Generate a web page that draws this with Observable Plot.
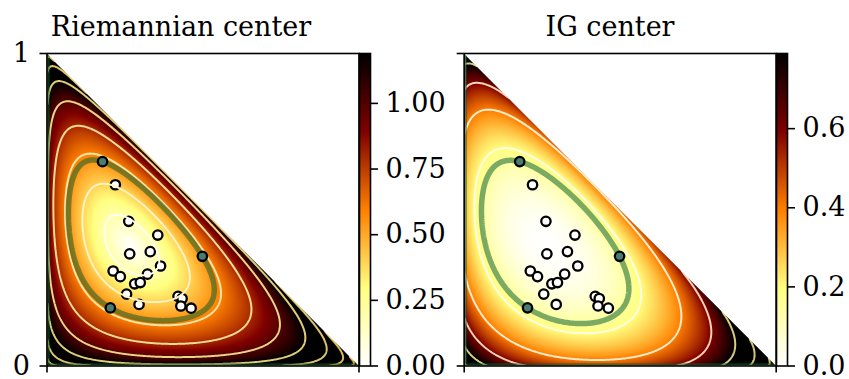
<!DOCTYPE html>
<html>
<head>
<meta charset="utf-8">
<script src="https://cdn.jsdelivr.net/npm/d3@7"></script>
<script src="https://cdn.jsdelivr.net/npm/@observablehq/plot@0.6"></script>
<style>
  html, body { margin: 0; padding: 0; background: #fff; }
  #chart { position: relative; width: 849px; height: 379px; overflow: hidden; font-family: "DejaVu Serif", serif; }
  #chart svg { position: absolute; top: 0; overflow: visible; }
  .title { position: absolute; top: 13px; font-size: 27px; line-height: 1; white-space: nowrap; transform: translateX(-50%); color: #000; }
</style>
</head>
<body>
<div id="chart"></div>
<script>
// Sample points on the 2-simplex: x = p1, y = p2, p3 = 1 - x - y
const sampleX = [0.178, 0.219, 0.262, 0.355, 0.265, 0.331, 0.498, 0.364, 0.212, 0.235,
                 0.322, 0.281, 0.299, 0.255, 0.295, 0.203, 0.420, 0.433, 0.429, 0.462];
const sampleY = [0.654, 0.580, 0.463, 0.419, 0.359, 0.366, 0.351, 0.320, 0.304, 0.286,
                 0.294, 0.263, 0.267, 0.230, 0.197, 0.186, 0.223, 0.216, 0.192, 0.185];
// Points that sit on the boundary of the smallest enclosing ball
const supportIdx = [0, 6, 15];

const panelTitles = ["Riemannian center", "IG center"];
const colorbarMax = [1.19, 0.79];
const colorbarTicks = [[0, 0.25, 0.5, 0.75, 1.0], [0, 0.2, 0.4, 0.6]];
const colorbarFormats = [".2f", ".1f"];
const contourLevels = [
  [0.2, 0.4, 0.6, 0.8, 1.0, 1.2, 1.4, 1.6, 1.8, 2.0],
  [0.2, 0.4, 0.6, 0.8, 1.0, 1.2]
];
const contourColors = [
  ["#fffdf0", "#fff2c4", "#fbe6a8", "#f4dc98", "#ead488", "#e2cc78", "#dcc46c", "#dcb858", "#e0aa44", "#e49a30"],
  ["#fffbe6", "#fdeccc", "#f2d4b4", "#d8cc84", "#d2c474", "#d0bc64"]
];

// afmhot colormap, reversed (0 = white, max = black); piecewise linear in RGB
const afmhotR = d3.piecewise(d3.interpolateRgb, ["#ffffff", "#ffff80", "#ff8000", "#800000", "#000000"]);

const simplex = (x, y) => [x, y, 1 - x - y];
const points = sampleX.map((x, i) => ({x, y: sampleY[i], support: supportIdx.includes(i)}));
const support = supportIdx.map(i => simplex(sampleX[i], sampleY[i]));

// Fisher-Rao geodesic distance on the simplex
const fisherRao = (p, c) =>
  2 * Math.acos(Math.min(1, p.reduce((s, v, i) => s + Math.sqrt(Math.max(v, 0) * c[i]), 0)));
// Kullback-Leibler divergence KL(p || c)
const kl = (p, c) => p.reduce((s, v, i) => s + (v > 0 ? v * Math.log(v / c[i]) : 0), 0);

// Point equidistant (Fisher-Rao) from three points: circumcenter on the sphere sqrt(p)
function riemannianCenter([a, b, c]) {
  const A = a.map(Math.sqrt), B = b.map(Math.sqrt), C = c.map(Math.sqrt);
  const u = B.map((v, i) => v - A[i]), w = C.map((v, i) => v - A[i]);
  let n = [u[1] * w[2] - u[2] * w[1], u[2] * w[0] - u[0] * w[2], u[0] * w[1] - u[1] * w[0]];
  const len = Math.hypot(...n) * Math.sign(n[0] + n[1] + n[2]);
  return n.map(v => (v / len) ** 2);
}
// Point equidistant in KL(p || c) from three points
function igCenter([a, b, c]) {
  const H = p => p.reduce((s, v) => s + (v > 0 ? v * Math.log(v) : 0), 0);
  const d1 = b.map((v, i) => v - a[i]), d2 = c.map((v, i) => v - a[i]);
  const r1 = H(b) - H(a), r2 = H(c) - H(a);
  const det = d1[0] * d2[2] - d1[2] * d2[0];
  const al = (r1 * d2[2] - d1[2] * r2) / det;
  const ga = (d1[0] * r2 - r1 * d2[0]) / det;
  const e = [Math.exp(al), 1, Math.exp(ga)], s = e[0] + e[1] + e[2];
  return e.map(v => v / s);
}

const chart = document.getElementById("chart");
const frames = [
  {left: 46.5, right: 358.5, top: 53, bottom: 365.5, titleX: 181},
  {left: 463.7, right: 775.7, top: 53, bottom: 365.5, titleX: 610}
];
const cbWidth = 11;

frames.forEach((f, k) => {
  const dist = k === 0 ? fisherRao : kl;
  const center = k === 0 ? riemannianCenter(support) : igCenter(support);
  const radius = dist(support[0], center);
  const heat = (x, y) => (x + y <= 1 ? dist(simplex(x, y), center) : NaN);
  const field = (x, y) => dist([x, y, Math.max(1 - x - y, 0)], center);
  const ext = {x1: 0, y1: 0, x2: 1, y2: 1};
  const vmax = colorbarMax[k];
  const colorScale = {type: "linear", domain: [0, vmax], interpolate: afmhotR, clamp: true};
  const style = {fontFamily: "DejaVu Serif", fontSize: "27px", background: "transparent", overflow: "visible"};

  const width = f.right + 1;
  const svg = Plot.plot({
    width,
    height: 379,
    marginLeft: f.left,
    marginRight: width - f.right,
    marginTop: f.top,
    marginBottom: 379 - f.bottom,
    x: {domain: [0, 1]},
    y: {domain: [0, 1]},
    color: colorScale,
    style,
    marks: [
      Plot.raster(undefined, {...ext, fill: heat, pixelSize: 1}),
      Plot.dot(points.filter(d => !d.support), {x: "x", y: "y", r: 4.7, fill: "white", stroke: "black", strokeWidth: 2.3}),
      ...contourLevels[k].map((lv, i) =>
        Plot.contour(undefined, {...ext, value: field, thresholds: [lv], fill: "none", stroke: contourColors[k][i], strokeWidth: 2, pixelSize: 1, clip: true})),
      Plot.contour(undefined, {...ext, value: field, thresholds: [radius], fill: "none", stroke: "rgb(5,95,45)", strokeOpacity: 0.53, strokeWidth: 5.5, pixelSize: 1, clip: true}),
      Plot.areaY([0, 1], {x: d => d, y1: d => 1 - d, y2: () => 1, fill: "white"}),
      Plot.dot(points.filter(d => d.support), {x: "x", y: "y", r: 4.7, fill: "#4c7c70", stroke: "black", strokeWidth: 2.3}),
      Plot.frame({stroke: "black", strokeWidth: 1.6}),
      Plot.axisY({ticks: [0, 1], tickSize: 7, tickPadding: 10, strokeWidth: 1.6, label: null,
        tickFormat: k === 0 ? d => String(d) : () => ""}),
      Plot.axisX({ticks: [0, 1], tickSize: 7, strokeWidth: 1.6, label: null, tickFormat: () => ""})
    ]
  });
  svg.style.left = "0px";
  chart.appendChild(svg);

  // colorbar
  const cbLeft = f.right;
  const cbSvg = Plot.plot({
    width: 90,
    height: 379,
    marginLeft: 2,
    marginRight: 90 - 2 - cbWidth,
    marginTop: f.top,
    marginBottom: 379 - f.bottom,
    x: {domain: [0, 1], axis: null},
    y: {domain: [0, vmax]},
    color: colorScale,
    style,
    marks: [
      Plot.raster(undefined, {x1: 0, x2: 1, y1: 0, y2: vmax, fill: (x, y) => y, pixelSize: 1}),
      Plot.frame({stroke: "black", strokeWidth: 1.6}),
      Plot.axisY({anchor: "right", ticks: colorbarTicks[k], tickFormat: d3.format(colorbarFormats[k]),
        tickSize: 7, tickPadding: 8, strokeWidth: 1.6, label: null})
    ]
  });
  cbSvg.style.left = (cbLeft - 2) + "px";
  chart.appendChild(cbSvg);

  const t = document.createElement("div");
  t.className = "title";
  t.style.left = f.titleX + "px";
  t.textContent = panelTitles[k];
  chart.appendChild(t);
});
</script>
</body>
</html>
